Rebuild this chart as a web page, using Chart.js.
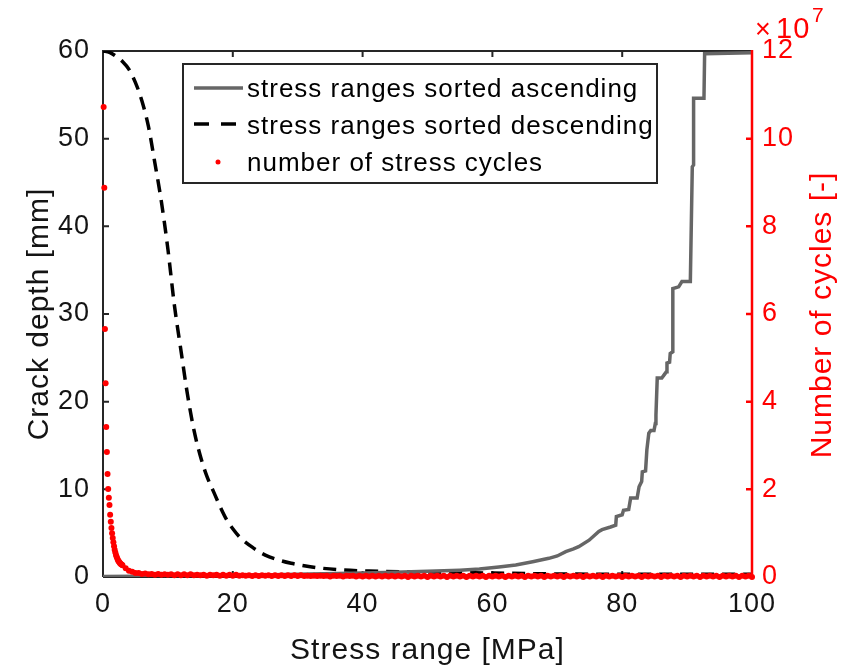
<!DOCTYPE html>
<html>
<head>
<meta charset="utf-8">
<script src="https://cdn.jsdelivr.net/npm/chart.js@4.4.1/dist/chart.umd.min.js"></script>
<style>
    html, body { margin: 0; padding: 0; background: #fff; }
    #wrap { width: 852px; height: 667px; }
</style>
</head>
<body>
<div id="wrap"><canvas id="crackChart" width="852" height="667"></canvas></div>
<script>
// crack depth [mm] when the stress ranges are applied in ascending order
const ascStress = [0, 10, 20, 30, 40, 45, 50, 55, 58, 61,
    63.6, 66.2, 68.7, 70, 71.3, 72.5, 73.3, 74.9, 76.4, 76.9,
    78.2, 79.0, 79.1, 80.0, 80.2, 81.0, 81.3, 82.3, 82.6, 83.0,
    83.1, 83.6, 83.8, 84.1, 84.4, 84.9, 85.1, 85.2, 85.4, 86.1,
    86.4, 86.8, 86.9, 87.3, 87.4, 87.8, 87.8, 88.7, 89.2, 90.5,
    90.8, 91.0, 91.0, 92.6, 92.7, 100];
const ascDepth = [0.05, 0.1, 0.18, 0.3, 0.45, 0.55, 0.66, 0.78, 0.9, 1.15,
    1.37, 1.75, 2.13, 2.4, 2.9, 3.2, 3.46, 4.2, 5.2, 5.4,
    5.7, 5.9, 6.9, 7.1, 7.6, 7.7, 9.0, 9.0, 10.3, 10.9,
    12.0, 12.1, 14.5, 16.4, 16.7, 16.7, 17.5, 18.5, 22.7, 22.7,
    23.0, 23.4, 24.4, 24.5, 25.5, 25.7, 32.9, 33.1, 33.7, 33.7,
    46.8, 47.0, 54.6, 54.6, 59.7, 59.8];

// crack depth [mm] when the stress ranges are applied in descending order
const descStress = [0, 1, 2, 3, 4, 5, 6, 7, 8, 9,
    10, 11, 12, 13, 14, 15, 16, 17, 18, 19,
    20, 21, 23, 25, 27, 29, 31, 33, 37, 41,
    46, 50, 55, 60, 70, 80, 100];
const descDepth = [60.0, 59.85, 59.4, 58.8, 57.9, 56.4, 54.3, 51.4, 47.2, 42.8,
    37.4, 31.0, 25.9, 20.9, 16.8, 13.8, 11.5, 9.8, 8.1, 6.6,
    5.5, 4.6, 3.4, 2.5, 1.95, 1.56, 1.28, 1.06, 0.8, 0.68,
    0.6, 0.57, 0.52, 0.45, 0.35, 0.3, 0.3];

// number of cycles per stress range bin, in units of 1e7
const cycleStress = [
    0.1, 0.2, 0.3, 0.4, 0.5, 0.6, 0.7, 0.8, 0.9, 1.0,
    1.1, 1.2, 1.3, 1.4, 1.5, 1.6, 1.7, 1.8, 1.9, 2.0,
    2.1, 2.2, 2.3, 2.4, 2.5, 2.6, 2.7, 2.8, 2.9, 3.0,
    3.5, 4, 4.5, 5, 5.5, 6, 6.5, 7, 7.5, 8,
    8.5, 9, 9.5, 10, 10.5, 11, 11.5, 12, 12.5, 13,
    13.5, 14, 14.5, 15, 15.5, 16, 16.5, 17, 17.5, 18,
    18.5, 19, 19.5, 20, 20.5, 21, 21.5, 22, 22.5, 23,
    23.5, 24, 24.5, 25, 25.5, 26, 26.5, 27, 27.5, 28,
    28.5, 29, 29.5, 30, 30.5, 31, 31.5, 32, 32.5, 33,
    33.5, 34, 34.5, 35, 35.5, 36, 36.5, 37, 37.5, 38,
    38.5, 39, 39.5, 40, 40.5, 41, 41.5, 42, 42.5, 43,
    43.5, 44, 44.5, 45, 45.5, 46, 46.5, 47, 47.5, 48,
    48.5, 49, 49.5, 50, 50.5, 51, 51.5, 52, 52.5, 53,
    53.5, 54, 54.5, 55, 55.5, 56, 56.5, 57, 57.5, 58,
    58.5, 59, 59.5, 60, 60.5, 61, 61.5, 62, 62.5, 63,
    63.5, 64, 64.5, 65, 65.5, 66, 66.5, 67, 67.5, 68,
    68.5, 69, 69.5, 70, 70.5, 71, 71.5, 72, 72.5, 73,
    73.5, 74, 74.5, 75, 75.5, 76, 76.5, 77, 77.5, 78,
    78.5, 79, 79.5, 80, 80.5, 81, 81.5, 82, 82.5, 83,
    83.5, 84, 84.5, 85, 85.5, 86, 86.5, 87, 87.5, 88,
    88.5, 89, 89.5, 90, 90.5, 91, 91.5, 92, 92.5, 93,
    93.5, 94, 94.5, 95, 95.5, 96, 96.5, 97, 97.5, 98,
    98.5, 99, 99.5, 100];
const cyclesE7 = [
    10.72, 8.88, 5.66, 4.42, 3.42, 2.85, 2.35, 2.01, 1.81, 1.64,
    1.42, 1.26, 1.12, 1.00, 0.89, 0.79, 0.70, 0.62, 0.56, 0.50,
    0.46, 0.42, 0.39, 0.36, 0.34, 0.32, 0.30, 0.29, 0.28, 0.27,
    0.20, 0.14, 0.12, 0.09, 0.09, 0.07, 0.08, 0.06, 0.07, 0.05,
    0.07, 0.05, 0.06, 0.05, 0.06, 0.04, 0.06, 0.04, 0.06, 0.04,
    0.06, 0.04, 0.05, 0.04, 0.05, 0.03, 0.05, 0.04, 0.05, 0.03,
    0.05, 0.03, 0.05, 0.03, 0.05, 0.03, 0.04, 0.03, 0.04, 0.02,
    0.04, 0.02, 0.04, 0.03, 0.04, 0.02, 0.04, 0.02, 0.04, 0.02,
    0.04, 0.02, 0.04, 0.02, 0.04, 0.02, 0.03, 0.02, 0.03, 0.02,
    0.03, 0.02, 0.03, 0.01, 0.03, 0.02, 0.03, 0.01, 0.03, 0.02,
    0.03, 0.01, 0.03, 0.01, 0.03, 0.01, 0.03, 0.01, 0.03, 0.01,
    0.03, 0.01, 0.03, 0.01, 0.03, 0.01, 0.03, 0.00, 0.03, 0.01,
    0.03, 0.01, 0.03, 0.00, 0.03, 0.01, 0.03, 0.01, 0.03, 0.00,
    0.03, 0.01, 0.03, 0.01, 0.03, 0.00, 0.03, 0.01, 0.03, 0.01,
    0.03, 0.00, 0.03, 0.01, 0.03, 0.01, 0.03, 0.00, 0.03, 0.01,
    0.03, 0.01, 0.03, 0.00, 0.03, 0.01, 0.03, 0.01, 0.03, 0.00,
    0.03, 0.01, 0.03, 0.01, 0.03, 0.00, 0.03, 0.01, 0.03, 0.01,
    0.03, 0.00, 0.03, 0.01, 0.03, 0.01, 0.03, 0.00, 0.03, 0.01,
    0.03, 0.01, 0.03, 0.00, 0.03, 0.01, 0.03, 0.01, 0.03, 0.00,
    0.03, 0.01, 0.03, 0.01, 0.03, 0.00, 0.03, 0.01, 0.03, 0.01,
    0.03, 0.00, 0.03, 0.01, 0.03, 0.01, 0.03, 0.00, 0.03, 0.01,
    0.03, 0.01, 0.03, 0.00, 0.03, 0.01, 0.03, 0.01, 0.03, 0.00,
    0.03, 0.01, 0.03, 0.00];

const FONT = '"Liberation Sans", Arial, Helvetica, sans-serif';
const AXIS_COLOR = '#262626';
const TEXT_COLOR = '#141414';
const RED = '#ff0000';
const DOT_RADIUS = 3;

function toPoints(xs, ys) {
    return xs.map(function (x, i) { return { x: x, y: ys[i] }; });
}

// box, inward ticks, legend and the right-hand axis decorations
const framePlugin = {
    id: 'frame',
    beforeDraw: function (chart) {
        chart.ctx.letterSpacing = '1px';
    },
    beforeDatasetsDraw: function (chart) {
        const ctx = chart.ctx;
        const a = chart.chartArea;
        const sx = chart.scales.x;
        const sy = chart.scales.y;
        ctx.save();
        ctx.strokeStyle = AXIS_COLOR;
        ctx.lineWidth = 2;
        ctx.beginPath();
        ctx.moveTo(a.left, a.bottom);
        ctx.lineTo(a.left, a.top);
        ctx.lineTo(a.right, a.top);
        ctx.moveTo(a.left, a.bottom);
        ctx.lineTo(a.right, a.bottom);
        sx.ticks.forEach(function (t) {
            if (t.value <= sx.min || t.value >= sx.max) return;
            const px = sx.getPixelForValue(t.value);
            ctx.moveTo(px, a.bottom);
            ctx.lineTo(px, a.bottom - 6);
            ctx.moveTo(px, a.top);
            ctx.lineTo(px, a.top + 6);
        });
        sy.ticks.forEach(function (t) {
            if (t.value <= sy.min || t.value >= sy.max) return;
            const py = sy.getPixelForValue(t.value);
            ctx.moveTo(a.left, py);
            ctx.lineTo(a.left + 6, py);
        });
        ctx.stroke();
        ctx.restore();
    },
    afterDatasetsDraw: function (chart) {
        const ctx = chart.ctx;
        const a = chart.chartArea;
        const sr = chart.scales.y1;
        ctx.save();
        ctx.strokeStyle = RED;
        ctx.lineWidth = 2.5;
        ctx.beginPath();
        ctx.moveTo(a.right, a.top - 1);
        ctx.lineTo(a.right, a.bottom + 1);
        sr.ticks.forEach(function (t) {
            if (t.value <= sr.min || t.value >= sr.max) return;
            const py = sr.getPixelForValue(t.value);
            ctx.moveTo(a.right, py);
            ctx.lineTo(a.right - 6, py);
        });
        ctx.stroke();
        ctx.restore();
    },
    afterDraw: function (chart) {
        const ctx = chart.ctx;
        const a = chart.chartArea;
        const ds = chart.data.datasets;
        ctx.save();

        // legend
        const lx = 183, ly = 64, lw = 474, lh = 119;
        ctx.fillStyle = '#fff';
        ctx.fillRect(lx, ly, lw, lh);
        ctx.strokeStyle = AXIS_COLOR;
        ctx.lineWidth = 2;
        ctx.strokeRect(lx, ly, lw, lh);

        ctx.lineWidth = ds[0].borderWidth;
        ctx.strokeStyle = ds[0].borderColor;
        ctx.beginPath();
        ctx.moveTo(lx + 11, ly + 24);
        ctx.lineTo(lx + 60, ly + 24);
        ctx.stroke();

        ctx.lineWidth = ds[1].borderWidth;
        ctx.strokeStyle = ds[1].borderColor;
        ctx.setLineDash([15, 12]);
        ctx.beginPath();
        ctx.moveTo(lx + 11, ly + 60);
        ctx.lineTo(lx + 56, ly + 60);
        ctx.stroke();
        ctx.setLineDash([]);

        ctx.fillStyle = RED;
        ctx.beginPath();
        ctx.arc(lx + 35, ly + 98, DOT_RADIUS - 0.5, 0, Math.PI * 2);
        ctx.fill();

        ctx.fillStyle = '#000';
        ctx.font = '26px ' + FONT;
        ctx.textAlign = 'left';
        ctx.textBaseline = 'alphabetic';
        ctx.fillText(ds[0].label, lx + 64, ly + 33);
        ctx.fillText(ds[1].label, lx + 64, ly + 70);
        ctx.fillText(ds[2].label, lx + 64, ly + 107);

        // exponent of the right axis
        ctx.fillStyle = RED;
        ctx.font = '27px ' + FONT;
        ctx.fillText('\u00d7', a.right + 3, 38);
        ctx.font = '29px ' + FONT;
        ctx.fillText('10', a.right + 24, 38);
        ctx.font = '21px ' + FONT;
        ctx.fillText('7', a.right + 60, 22);

        // right axis title, read bottom to top
        ctx.translate(823, (a.top + a.bottom) / 2 + 1);
        ctx.rotate(-Math.PI / 2);
        ctx.font = '30px ' + FONT;
        ctx.textAlign = 'center';
        ctx.textBaseline = 'middle';
        ctx.fillText('Number of cycles [-]', 0, 0);
        ctx.restore();
    }
};

new Chart(document.getElementById('crackChart'), {
    type: 'scatter',
    data: {
        datasets: [
            {
                label: 'stress ranges sorted ascending',
                data: toPoints(ascStress, ascDepth),
                showLine: true,
                borderColor: '#666666',
                borderWidth: 3.5,
                pointRadius: 0,
                yAxisID: 'y',
                order: 1
            },
            {
                label: 'stress ranges sorted descending',
                data: toPoints(descStress, descDepth),
                showLine: true,
                borderColor: '#000000',
                borderWidth: 3.5,
                borderDash: [13, 8],
                cubicInterpolationMode: 'monotone',
                pointRadius: 0,
                yAxisID: 'y',
                order: 2
            },
            {
                label: 'number of stress cycles',
                data: toPoints(cycleStress, cyclesE7),
                showLine: false,
                pointRadius: DOT_RADIUS,
                pointBorderWidth: 0,
                pointBackgroundColor: RED,
                yAxisID: 'y1',
                order: 0,
                clip: false
            }
        ]
    },
    options: {
        responsive: false,
        animation: false,
        devicePixelRatio: 1,
        layout: { padding: { top: 51, left: 0, right: 0, bottom: 0 } },
        plugins: {
            legend: { display: false },
            tooltip: { enabled: false }
        },
        scales: {
            x: {
                type: 'linear',
                min: 0,
                max: 100,
                afterFit: function (s) { s.height = 90; },
                grid: { display: false, drawTicks: false },
                border: { display: false },
                ticks: { stepSize: 20, padding: 11, color: TEXT_COLOR, font: { family: FONT, size: 27 } },
                title: {
                    display: true,
                    text: 'Stress range [MPa]',
                    color: TEXT_COLOR,
                    padding: 0,
                    font: { family: FONT, size: 30, lineHeight: 1.1 }
                }
            },
            y: {
                position: 'left',
                min: 0,
                max: 60,
                afterFit: function (s) { s.width = 103; },
                grid: { display: false, drawTicks: false },
                border: { display: false },
                ticks: { stepSize: 10, padding: 13, color: TEXT_COLOR, font: { family: FONT, size: 27 } },
                title: {
                    display: true,
                    text: 'Crack depth [mm]',
                    color: TEXT_COLOR,
                    padding: { top: 22, bottom: 0 },
                    font: { family: FONT, size: 30, lineHeight: 1.2 }
                }
            },
            y1: {
                position: 'right',
                min: 0,
                max: 12,
                afterFit: function (s) { s.width = 100; },
                grid: { display: false, drawTicks: false },
                border: { display: false },
                ticks: { stepSize: 2, padding: 10, color: RED, font: { family: FONT, size: 27 } }
            }
        }
    },
    plugins: [framePlugin]
});
</script>
</body>
</html>
